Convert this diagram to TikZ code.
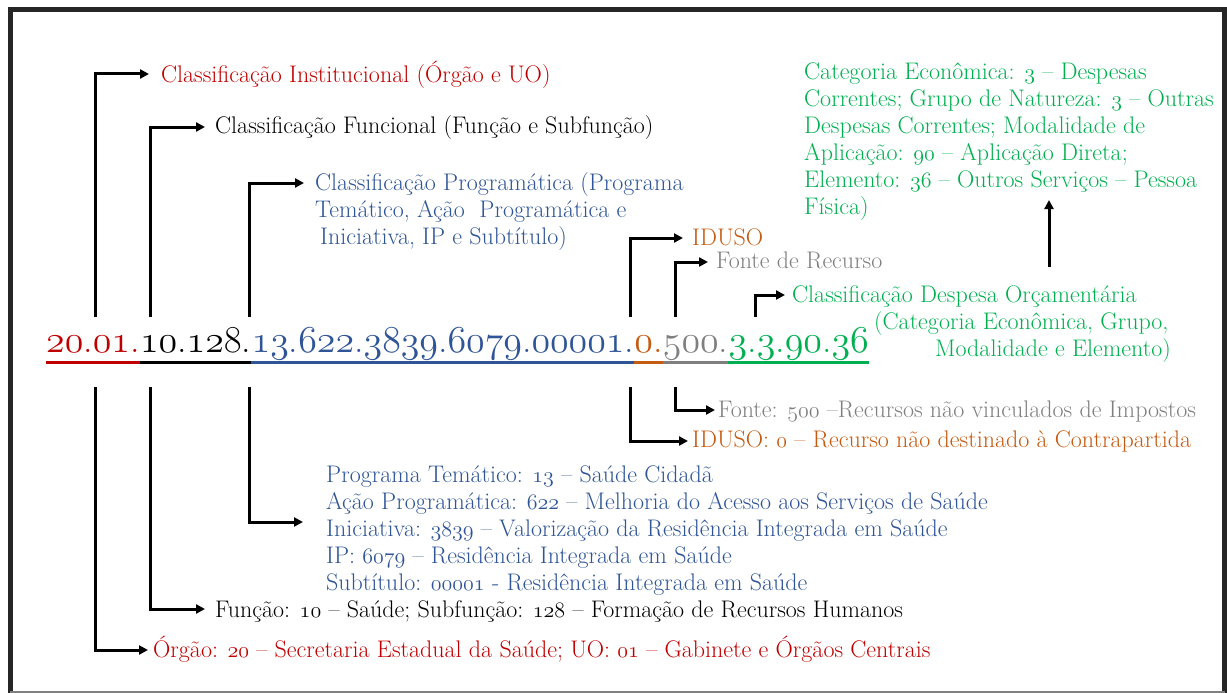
\documentclass[tikz,border=0pt]{standalone}
\usepackage{fontspec}
\usetikzlibrary{arrows.meta}
\definecolor{cred}{HTML}{C00000}
\definecolor{cblue}{HTML}{2F5597}
\definecolor{corange}{HTML}{C55A11}
\definecolor{cgray}{HTML}{7F7F7F}
\definecolor{cgreen}{HTML}{00B050}
\definecolor{cframe}{HTML}{262626}
\DeclareFontFamily{OML}{osfdig}{}
\DeclareFontShape{OML}{osfdig}{m}{n}{<->cmmi12}{}
\newcommand\osn[1]{{\usefont{OML}{osfdig}{m}{n}#1}}
\newcommand\osnt[1]{{\fontsize{22}{27}\usefont{OML}{osfdig}{m}{n}#1}}
\newcommand\txtfont{\fontsize{24}{27}\selectfont}
\newcommand\codefont{\fontsize{38}{40}\selectfont}
\newcommand\bigcodefont{\fontsize{38}{40}\selectfont}
\newcommand\mlines[1]{\begin{tabular}[t]{@{}l@{}}#1\end{tabular}}
\tikzset{
  lbl/.style={inner sep=0pt, anchor=base west, font=\txtfont},
  code/.style={inner sep=0pt, anchor=base west, font=\codefont},
  conn/.style={line width=3pt, line cap=rect},
  arr/.style={conn, -{Triangle[length=9pt,width=9pt]}},
  uline/.style={line width=3pt}
}
\begin{document}
\begin{tikzpicture}[x=1pt,y=-1pt]
\useasboundingbox (0,0) rectangle (1227,693);
% frame
\draw[cframe, line width=5pt] (10,693) -- (10,10) -- (1224.5,10) -- (1224.5,693);
\draw[gray, line width=2pt] (10,692) -- (1225,692);

% code
\node[code, text=cred] (c1) at (46,352) {\osn{20}.\osn{01}.};
\node[code, text=black] (c2) at (c1.base east) {\osn{10}.\osn{12}};
\node[code, text=black, font=\bigcodefont] (c3) at (c2.base east) {8.};
\node[code, text=cblue] (c4) at (c3.base east) {\osn{13}.\osn{622}.\osn{3839}.\osn{6079}.\osn{00001}.};
\node[code, text=corange] (c5) at (c4.base east) {\osn{0}.};
\node[code, text=cgray] (c6) at (c5.base east) {\osn{500}.};
\node[code, text=cgreen] (c7) at (c6.base east) {\osn{3}.\osn{3}.\osn{90}.\osn{36}};
\draw[uline, cred] ([yshift=-10pt]c1.base west) -- ([yshift=-10pt]c1.base east);
\draw[uline, black] ([yshift=-10pt]c2.base west) -- ([yshift=-10pt]c3.base east);
\draw[uline, cblue] ([yshift=-10pt]c4.base west) -- ([yshift=-10pt]c4.base east);
\draw[uline, corange] ([yshift=-10pt]c5.base west) -- ([yshift=-10pt]c5.base east);
\draw[uline, cgray] ([yshift=-10pt]c6.base west) -- ([yshift=-10pt]c6.base east);
\draw[uline, cgreen] ([yshift=-10pt]c7.base west) -- ([yshift=-10pt]c7.base east);

% upper labels
\node[lbl, text=cred] (inst) at (161,82) {Classificação Institucional (Órgão e UO)};
\node[lbl, text=black] (func) at (215,133) {Classificação Funcional (Função e Subfunção)};
\node[lbl, text=cblue] (prog) at (315,190) {\mlines{Classificação Programática (Programa\\
Temático, Ação~ Programática e\\
\hspace{5pt}Iniciativa, IP e Subtítulo)}};
\node[lbl, text=corange] (iduso) at (692,245) {IDUSO};
\node[lbl, text=cgray] (fonte) at (716,268) {Fonte de Recurso};
\node[lbl, text=cgreen] (desp) at (792,302) {\mlines{Classificação Despesa Orçamentária\\
\hspace{82pt}(Categoria Econômica, Grupo,\\
\hspace{143pt}Modalidade e Elemento)}};
\node[lbl, text=cgreen] (cat) at (804,80) {\mlines{Categoria Econômica: \osnt{3} – Despesas\\
Correntes; Grupo de Natureza: \osnt{3} – Outras\\
Despesas Correntes; Modalidade de\\
Aplicação: \osnt{90} – Aplicação Direta;\\
Elemento: \osnt{36} – Outros Serviços – Pessoa\\
Física)}};

% lower labels
\node[lbl, text=cgray] (fonte2) at (718,417) {Fonte: \osnt{500} –Recursos não vinculados de Impostos};
\node[lbl, text=corange] (iduso2) at (692,447) {IDUSO: \osnt{0} – Recurso não destinado à Contrapartida};
\node[lbl, text=cblue] (progd) at (326,482) {\mlines{Programa Temático: \osnt{13} – Saúde Cidadã\\
Ação Programática: \osnt{622} – Melhoria do Acesso aos Serviços de Saúde\\
Iniciativa: \osnt{3839} – Valorização da Residência Integrada em Saúde\\
IP: \osnt{6079} – Residência Integrada em Saúde\\
Subtítulo: \osnt{00001} - Residência Integrada em Saúde}};
\node[lbl, text=black] (funcd) at (215,617) {Função: \osnt{10} – Saúde; Subfunção: \osnt{128} – Formação de Recursos Humanos};
\node[lbl, text=cred] (orgd) at (153,657) {Órgão: \osnt{20} – Secretaria Estadual da Saúde; UO: \osnt{01} – Gabinete e Órgãos Centrais};

% connector start points
\coordinate (u1) at (95,315);
\coordinate (u2) at (150,315);
\coordinate (u3) at (249,315);
\coordinate (u4) at (630,315);
\coordinate (u5) at (675,315);
\coordinate (u6) at (755,315);
\coordinate (d1) at (95,388);
\coordinate (d2) at (150,388);
\coordinate (d3) at (249,388);
\coordinate (d4) at (630,388);
\coordinate (d5) at (675,388);
\coordinate (g0) at (1049,265);
\coordinate (g1) at (1049,200);

% upward connectors
\draw[arr, shorten >=12pt] (u1) |- ([yshift=8pt]inst.base west);
\draw[arr, shorten >=10pt] (u2) |- ([yshift=6pt]func.base west);
\draw[arr, shorten >=11pt] (u3) |- ([yshift=7pt]prog.base west);
\draw[arr, shorten >=9pt] (u4) |- ([yshift=7pt]iduso.base west);
\draw[arr, shorten >=8pt] (u5) |- ([yshift=6pt]fonte.base west);
\draw[arr, shorten >=7pt] (u6) |- ([yshift=7pt]desp.base west);
\draw[arr] (g0) -- (g1);

% downward connectors
\draw[arr, shorten >=3pt] (d5) |- ([yshift=7pt]fonte2.base west);
\draw[arr, shorten >=4pt] (d4) |- ([yshift=6pt]iduso2.base west);
\draw[arr, shorten >=23pt] (d3) |- ([yshift=-40pt]progd.base west);
\draw[arr, shorten >=10pt] (d2) |- ([yshift=8pt]funcd.base west);
\draw[arr, shorten >=5pt] (d1) |- ([yshift=7pt]orgd.base west);
\end{tikzpicture}
\end{document}
